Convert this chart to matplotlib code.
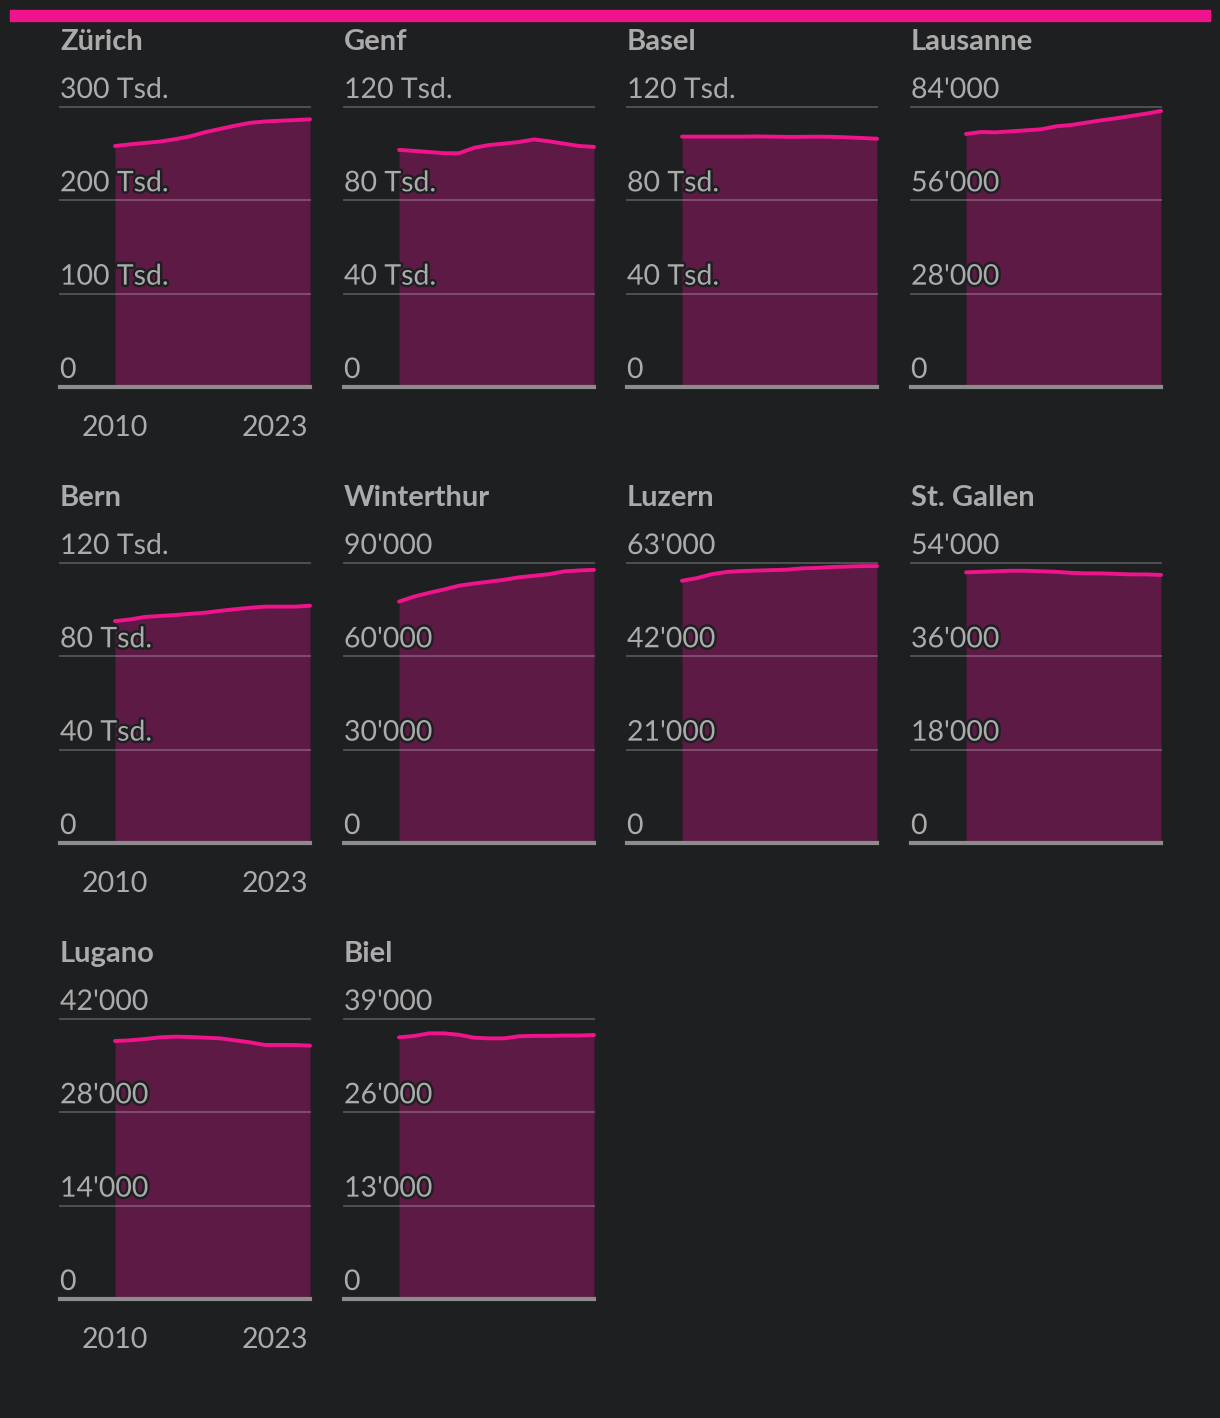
import matplotlib
matplotlib.use('Agg')
import matplotlib.pyplot as plt
import matplotlib.patheffects as pe
from matplotlib.patches import Rectangle

plt.rcParams['font.family'] = ['Lato', 'DejaVu Sans']

# population per year, 2010 - 2023
years = list(range(2010, 2024))

zuerich = [258200, 260000, 261500, 263000, 265500, 268500, 273000, 276500, 280000, 283000, 284500, 285300, 286000, 286800]
genf = [101600, 101200, 100700, 100200, 100200, 102500, 103700, 104300, 105000, 106100, 105300, 104300, 103300, 102900]
basel = [107300, 107300, 107300, 107300, 107300, 107400, 107300, 107200, 107200, 107300, 107200, 107000, 106700, 106400]
lausanne = [75900, 76500, 76400, 76700, 77000, 77300, 78200, 78600, 79300, 80000, 80600, 81300, 82000, 82800]
bern = [95100, 95800, 96900, 97300, 97700, 98200, 98700, 99500, 100200, 100800, 101300, 101300, 101300, 101700]
winterthur = [77600, 79200, 80400, 81500, 82700, 83400, 84000, 84600, 85400, 85900, 86400, 87300, 87600, 87800]
luzern = [59000, 59600, 60500, 61000, 61200, 61300, 61400, 61500, 61800, 61900, 62100, 62200, 62300, 62300]
stgallen = [52200, 52300, 52400, 52500, 52500, 52400, 52300, 52100, 52000, 52000, 51900, 51800, 51800, 51700]
lugano = [38700, 38800, 39000, 39250, 39350, 39300, 39200, 39100, 38800, 38500, 38100, 38100, 38100, 38000]
biel = [36450, 36630, 37000, 37000, 36800, 36400, 36300, 36300, 36600, 36650, 36650, 36700, 36700, 36770]

cities = ['Zürich', 'Genf', 'Basel', 'Lausanne', 'Bern', 'Winterthur',
          'Luzern', 'St. Gallen', 'Lugano', 'Biel']
series = [zuerich, genf, basel, lausanne, bern, winterthur, luzern, stgallen, lugano, biel]
y_top = [300000, 120000, 120000, 84000, 120000, 90000, 63000, 54000, 42000, 39000]
tick_labels = [
    ['0', '100 Tsd.', '200 Tsd.', '300 Tsd.'],
    ['0', '40 Tsd.', '80 Tsd.', '120 Tsd.'],
    ['0', '40 Tsd.', '80 Tsd.', '120 Tsd.'],
    ['0', "28'000", "56'000", "84'000"],
    ['0', '40 Tsd.', '80 Tsd.', '120 Tsd.'],
    ['0', "30'000", "60'000", "90'000"],
    ['0', "21'000", "42'000", "63'000"],
    ['0', "18'000", "36'000", "54'000"],
    ['0', "14'000", "28'000", "42'000"],
    ['0', "13'000", "26'000", "39'000"],
]

bg = '#1e1f21'
pink = '#f0148c'
fill_col = '#5c1a45'
txt = '#ababab'

W, H = 1220, 1418
fig = plt.figure(figsize=(W / 100, H / 100), dpi=100)
fig.patch.set_facecolor(bg)

# pink bar on top
fig.patches.append(Rectangle((10 / W, 1 - 21 / H), 1200 / W, 11 / H,
                             transform=fig.transFigure, color=pink, zorder=5))

col_left = [60, 344, 627, 911]
panel_w = 250
row_step = 456

for i, city in enumerate(cities):
    row, col = divmod(i, 4)
    top = 107 + row * row_step
    base = 387 + row * row_step
    left = col_left[col]
    ax = fig.add_axes([left / W, 1 - base / H, panel_w / W, (base - top) / H])
    ax.set_facecolor(bg)
    ax.set_xlim(2010 - 55 / 15, 2023)
    ax.set_ylim(0, y_top[i])
    for s in ax.spines.values():
        s.set_visible(False)
    ax.set_xticks([])
    ax.set_yticks([])

    ax.fill_between(years, series[i], 0, color=fill_col, lw=0, zorder=1)
    ax.plot(years, series[i], color=pink, lw=2.8, solid_capstyle='round', zorder=3, clip_on=False)

    for k in range(4):
        yv = y_top[i] * k / 3
        if k > 0:
            ax.axhline(yv, color='white', alpha=0.22, lw=1.4, zorder=2, clip_on=False)
        ax.annotate(tick_labels[i][k], (0, yv), xycoords=('axes fraction', 'data'),
                    xytext=(0, 6.5), textcoords='offset points', ha='left', va='baseline',
                    fontsize=20.5, color=txt, zorder=4,
                    path_effects=[pe.withStroke(linewidth=3.5, foreground=bg)])

    ax.axhline(0, color='#8c8c8c', lw=3, solid_capstyle='projecting', zorder=4, clip_on=False)

    ax.annotate(city, (0, 1), xycoords='axes fraction', xytext=(0, 47), textcoords='offset points',
                ha='left', va='center', fontsize=21, fontweight='bold', color=txt)

    if col == 0:
        ax.annotate('2010', (2010, 0), xycoords=('data', 'axes fraction'), xytext=(0, -29.5),
                    textcoords='offset points', ha='center', va='center', fontsize=20.5, color=txt)
        ax.annotate('2023', (2023, 0), xycoords=('data', 'axes fraction'), xytext=(-1, -29.5),
                    textcoords='offset points', ha='right', va='center', fontsize=20.5, color=txt)

fig.savefig('out.png', dpi=100, facecolor=bg)
